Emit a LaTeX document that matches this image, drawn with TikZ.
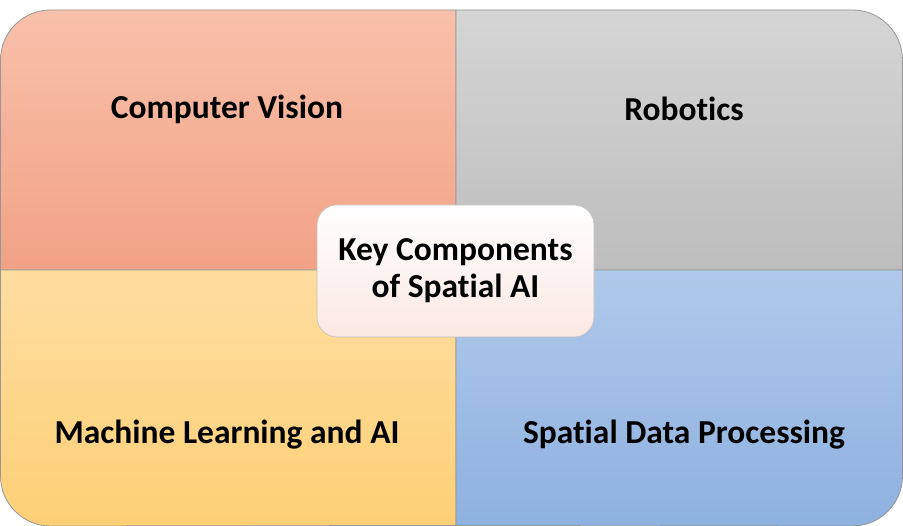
\documentclass[tikz,border=0pt]{standalone}
\usepackage{fontspec}
\setmainfont{Carlito}[Ligatures=NoCommon]
\usepackage{tikz}
\usetikzlibrary{positioning}

\definecolor{cvtop}{RGB}{248,192,170}
\definecolor{cvbot}{RGB}{242,162,134}
\definecolor{robtop}{RGB}{213,213,213}
\definecolor{robbot}{RGB}{189,189,189}
\definecolor{mltop}{RGB}{254,221,160}
\definecolor{mlbot}{RGB}{253,208,118}
\definecolor{sdtop}{RGB}{176,201,235}
\definecolor{sdbot}{RGB}{141,177,223}
\definecolor{hubbot}{RGB}{251,232,226}
\definecolor{edge}{RGB}{150,150,150}

\begin{document}
\begin{tikzpicture}[x=1pt, y=1pt,
	quad/.style={draw=edge, line width=0.8pt},
	title/.style={font=\fontsize{33.5}{40}\selectfont\bfseries, text=black},
	hub/.style={draw=edge!60, line width=0.6pt, rounded corners=20pt, top color=white, bottom color=hubbot, minimum width=277pt, minimum height=132pt, align=center, font=\fontsize{33.5}{37}\selectfont\bfseries},
	]
	\useasboundingbox (0,0) rectangle (903,526);

	% quadrants
	\path[quad, top color=cvtop, bottom color=cvbot] (456,256) -- (0.5,256) -- (0.5,466) arc[start angle=180, end angle=90, radius=50] -- (456,516) -- cycle;
	\path[quad, top color=robtop, bottom color=robbot] (456,256) -- (902.5,256) -- (902.5,466) arc[start angle=0, end angle=90, radius=50] -- (456,516) -- cycle;
	\path[quad, top color=mltop, bottom color=mlbot] (456,256) -- (0.5,256) -- (0.5,50) arc[start angle=180, end angle=270, radius=50] -- (456,0.5) -- cycle;
	\path[quad, top color=sdtop, bottom color=sdbot] (456,256) -- (902.5,256) -- (902.5,50) arc[start angle=0, end angle=-90, radius=50] -- (456,0.5) -- cycle;

	\node[title] (cv) at (227,417) {Computer Vision};
	\node[title] (rob) at (684,417) {Robotics};
	\node[title] (ml) at (227,91) {Machine Learning and AI};
	\node[title] (sdp) at (684,91) {Spatial Data Processing};

	\node[hub] (key) at (455.5,255) {Key Components\\of Spatial AI};
\end{tikzpicture}
\end{document}
